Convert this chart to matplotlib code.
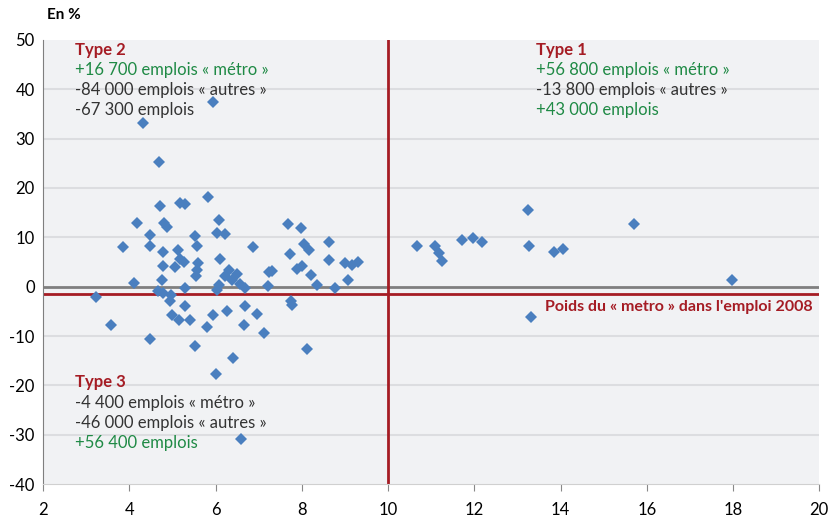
import matplotlib.pyplot as plt

plt.rcParams['font.family'] = ['Lato', 'DejaVu Sans']
plt.rcParams['axes.unicode_minus'] = False

# poids du "metro" dans l'emploi 2008 (%) / evolution de l'emploi (%)
poids = [3.23, 3.57, 3.86, 4.11, 4.17, 4.31, 4.47, 4.47, 4.48, 4.68,
         4.70, 4.67, 4.75, 4.79, 4.77, 4.81, 4.87, 4.79, 4.97, 4.95,
         5.06, 5.12, 5.18, 5.26, 5.18, 5.29, 5.29, 5.29, 4.99, 5.16,
         5.40, 5.53, 5.57, 5.60, 5.57, 5.55, 5.53, 5.82, 5.93, 5.80,
         5.94, 6.07, 6.03, 6.22, 6.11, 6.30, 6.22, 6.09, 6.03, 6.26,
         6.01, 6.40, 6.49, 6.38, 6.57, 6.67, 6.60, 6.69, 6.97, 6.66,
         7.13, 6.86, 7.21, 7.23, 7.30, 7.67, 7.98, 7.72, 7.75, 7.78,
         7.88, 8.00, 8.04, 8.17, 8.22, 8.36, 8.11, 8.64, 8.64, 8.77,
         9.00, 9.06, 9.17, 9.30,
         10.67, 11.08, 11.17, 11.25, 11.71, 11.98, 12.19, 13.24, 13.26, 13.32,
         13.84, 14.06, 15.70, 17.98]
evol = [-2.1, -7.7, 8.0, 0.75, 13.0, 33.1, 10.5, 8.2, -10.5, 25.3,
        16.3, -0.95, 1.4, 7.0, 4.2, 12.9, 12.0, -1.3, -1.6, -2.9,
        3.9, 7.5, 5.7, 5.1, 17.0, 16.8, -0.2, -3.85, -5.7, -6.7,
        -6.75, 10.2, 8.2, 4.8, 3.4, 2.1, -12.0, 18.1, 37.5, -8.1,
        -5.7, 13.6, 10.9, 10.7, 5.6, 3.3, 2.1, 0.3, -0.6, -5.0,
        -17.7, -14.5, 2.5, 1.4, 0.5, -0.3, -30.9, -3.85, -5.5, -7.7,
        -9.4, 8.0, 0.2, 2.9, 3.1, 12.7, 11.9, 6.6, -2.8, -3.7,
        3.5, 4.2, 8.7, 7.4, 2.3, 0.4, -12.7, 9.0, 5.5, -0.2,
        4.7, 1.4, 4.3, 5.0,
        8.3, 8.2, 6.8, 5.3, 9.5, 9.9, 9.1, 15.6, 8.2, -6.1,
        7.0, 7.6, 12.6, 1.3]

seuil_x = 10
seuil_y = -1.5

red = '#a51c24'
green = '#1f8a45'
dark = '#333333'

fig = plt.figure(figsize=(8.3, 5.24), dpi=100)
ax = fig.add_axes([0.052, 0.076, 0.935, 0.848])
ax.set_facecolor('#f1f2f4')

for yv in range(-30, 50, 10):
    if yv != 0:
        ax.axhline(yv, color='#dcdde0', lw=1.5, zorder=1)
ax.axhline(0, color='#7f7f7f', lw=2, zorder=1)
ax.axvline(seuil_x, color=red, lw=2, zorder=2)
ax.axhline(seuil_y, color=red, lw=2, zorder=2)

ax.plot(poids, evol, 'D', color='#4a7fbf', markersize=6.5, markeredgewidth=0, zorder=3)

ax.set_xlim(2, 20)
ax.set_ylim(-40, 50)
ax.set_xticks(range(2, 21, 2))
ax.set_yticks(range(-40, 51, 10))
for s in ['top', 'right']:
    ax.spines[s].set_visible(False)
ax.spines['left'].set_color('#7f7f7f')
ax.spines['bottom'].set_color('#d0d0d0')
ax.tick_params(axis='y', length=0, labelsize=12, pad=6)
ax.tick_params(axis='x', length=5, color='#888888', labelsize=12, pad=8)

fs = 12
def bloc(x, y, lignes):
    for i, (txt, c, w) in enumerate(lignes):
        ax.text(x, y - i * 4.1, txt, color=c, fontsize=fs, fontweight=w, va='center', ha='left', zorder=4)

bloc(2.74, 48.0, [('Type 2', red, 'bold'),
                  ('+16 700 emplois « métro »', green, 'normal'),
                  ('-84 000 emplois « autres »', dark, 'normal'),
                  ('-67 300 emplois', dark, 'normal')])
bloc(13.42, 48.0, [('Type 1', red, 'bold'),
                   ('+56 800 emplois « métro »', green, 'normal'),
                   ('-13 800 emplois « autres »', dark, 'normal'),
                   ('+43 000 emplois', green, 'normal')])
bloc(2.74, -19.4, [('Type 3', red, 'bold'),
                   ('-4 400 emplois « métro »', dark, 'normal'),
                   ('-46 000 emplois « autres »', dark, 'normal'),
                   ('+56 400 emplois', green, 'normal')])

ax.text(19.85, -4.1, "Poids du « metro » dans l'emploi 2008", color=red, fontsize=11.5,
        fontweight='bold', ha='right', va='center', zorder=4)

fig.text(0.057, 0.972, 'En %', fontsize=11, fontweight='bold', ha='left', va='center')

fig.savefig('out.png', dpi=100)
